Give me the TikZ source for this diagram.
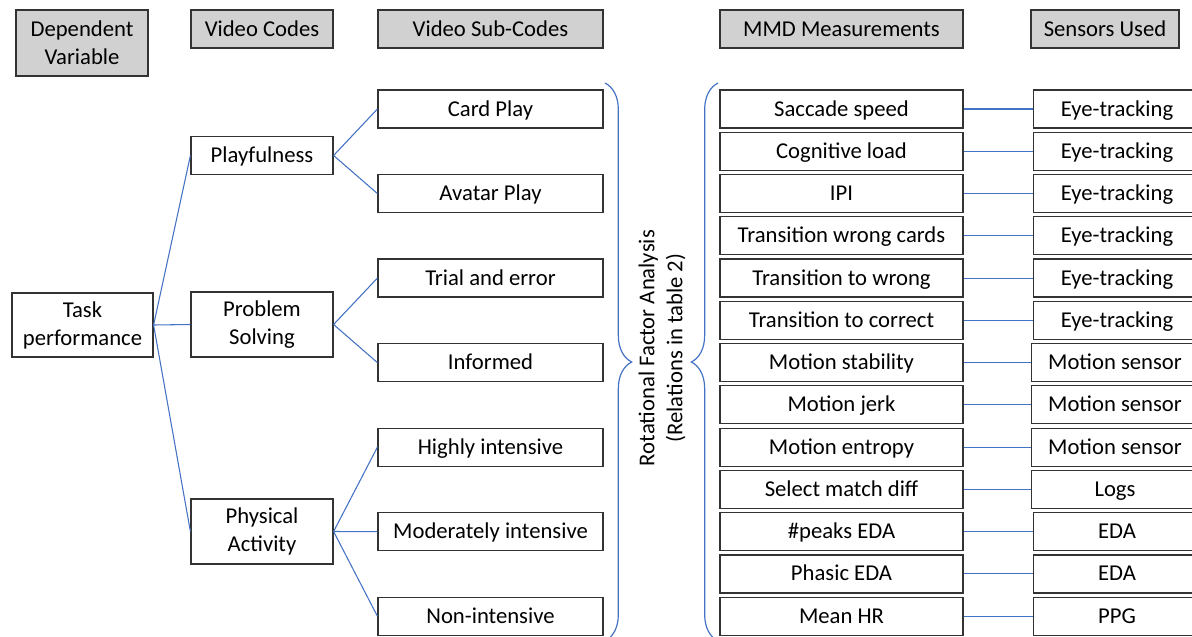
\documentclass[tikz,border=0pt]{standalone}
\usepackage{fontspec}
\setmainfont{Carlito}
\usetikzlibrary{decorations.pathreplacing}
\definecolor{linkblue}{RGB}{68,114,196}

\begin{document}
\begin{tikzpicture}[x=0.75pt, y=-0.75pt, font=\fontsize{17}{21}\selectfont,
block/.style={rectangle, draw=black!80, line width=0.9pt, minimum height=28.5pt, inner sep=2pt, align=center},
oneline/.style={block, text height=13.5pt, text depth=3pt},
head/.style={block, fill=black!18},
code/.style={block, minimum width=106.5pt, minimum height=28pt},
sub/.style={oneline, minimum width=168.75pt},
mmd/.style={oneline, minimum width=182.25pt},
sens/.style={oneline, minimum width=125pt},
link/.style={draw=linkblue, line width=0.8pt},
cbrace/.style={draw=linkblue, line width=0.9pt, decorate, decoration={brace, amplitude=20pt}}]
 \useasboundingbox (0,0) rectangle (1192,636);

 % column headers
 \node[head, minimum width=99pt, minimum height=49.5pt] (hdep) at (82,43) {Dependent\\Variable};
 \node[head, oneline, minimum width=106.5pt] (hcode) at (262,29) {Video Codes};
 \node[head, oneline, minimum width=168.75pt] (hsub) at (490.5,29) {Video Sub-Codes};
 \node[head, oneline, minimum width=182.25pt] (hmmd) at (841.5,29) {MMD Measurements};
 \node[head, oneline, minimum width=111pt] (hsens) at (1105,29) {Sensors Used};

 % dependent variable and video codes
 \node[block, minimum width=105.75pt, minimum height=48pt] (task) at (82.5,325) {Task\\performance};
 \node[code, oneline] (play) at (262,155.5) {Playfulness};
 \node[code, minimum height=48.75pt] (prob) at (262,324.5) {Problem\\Solving};
 \node[code, minimum height=48.75pt] (phys) at (262,531.5) {Physical\\Activity};

 % video sub-codes
 \node[sub] (card) at (490.5,109) {Card Play};
 \node[sub, below of=card, node distance=63.4pt] (avatar) {Avatar Play};
 \node[sub, below of=avatar, node distance=63.4pt] (trial) {Trial and error};
 \node[sub, below of=trial, node distance=63.4pt] (informed) {Informed};
 \node[sub, below of=informed, node distance=63.4pt] (highly) {Highly intensive};
 \node[sub, below of=highly, node distance=63.4pt] (moder) {Moderately intensive};
 \node[sub, below of=moder, node distance=63.4pt] (nonint) {Non-intensive};

 % MMD measurements
 \node[mmd] (saccade) at (841.5,109) {Saccade speed};
 \node[mmd, below of=saccade, node distance=31.7pt] (cogload) {Cognitive load};
 \node[mmd, below of=cogload, node distance=31.7pt] (ipi) {IPI};
 \node[mmd, below of=ipi, node distance=31.7pt] (trwcards) {Transition wrong cards};
 \node[mmd, below of=trwcards, node distance=31.7pt] (trwrong) {Transition to wrong};
 \node[mmd, below of=trwrong, node distance=31.7pt] (trcorrect) {Transition to correct};
 \node[mmd, below of=trcorrect, node distance=31.7pt] (mstab) {Motion stability};
 \node[mmd, below of=mstab, node distance=31.7pt] (mjerk) {Motion jerk};
 \node[mmd, below of=mjerk, node distance=31.7pt] (mentropy) {Motion entropy};
 \node[mmd, below of=mentropy, node distance=31.7pt] (selmatch) {Select match diff};
 \node[mmd, below of=selmatch, node distance=31.7pt] (peaks) {\#peaks EDA};
 \node[mmd, below of=peaks, node distance=31.7pt] (phasic) {Phasic EDA};
 \node[mmd, below of=phasic, node distance=31.7pt] (meanhr) {Mean HR};

 % sensors
 \node[sens] (s1) at (1117,109) {Eye-tracking};
 \node[sens, below of=s1, node distance=31.7pt] (s2) {Eye-tracking};
 \node[sens, below of=s2, node distance=31.7pt] (s3) {Eye-tracking};
 \node[sens, below of=s3, node distance=31.7pt] (s4) {Eye-tracking};
 \node[sens, below of=s4, node distance=31.7pt] (s5) {Eye-tracking};
 \node[sens, below of=s5, node distance=31.7pt] (s6) {Eye-tracking};
 \node[sens, below of=s6, node distance=31.7pt, xshift=-1.5pt] (s7) {Motion sensor};
 \node[sens, below of=s7, node distance=31.7pt] (s8) {Motion sensor};
 \node[sens, below of=s8, node distance=31.7pt] (s9) {Motion sensor};
 \node[sens, below of=s9, node distance=31.7pt] (s10) {Logs};
 \node[sens, below of=s10, node distance=31.7pt, xshift=1.5pt] (s11) {EDA};
 \node[sens, below of=s11, node distance=31.7pt] (s12) {EDA};
 \node[sens, below of=s12, node distance=31.7pt] (s13) {PPG};

 % rotated label between the braces
 \node[rotate=90, align=center] (rfa) at (662,348) {Rotational Factor Analysis\\(Relations in table 2)};
 \coordinate (ltop) at (605,83);
 \coordinate (lbot) at (605,641);
 \coordinate (rtop) at (718,83);
 \coordinate (rbot) at (718,641);
 \draw[cbrace] (ltop) -- (lbot);
 \draw[cbrace] (rbot) -- (rtop);

 % tree links
 \draw[link] (task.east) -- (play.west);
 \draw[link] (task.east) -- (prob.west);
 \draw[link] (task.east) -- (phys.west);
 \draw[link] (play.east) -- (card.west);
 \draw[link] (play.east) -- (avatar.west);
 \draw[link] (prob.east) -- (trial.west);
 \draw[link] (prob.east) -- (informed.west);
 \draw[link] (phys.east) -- (highly.west);
 \draw[link] (phys.east) -- (moder.west);
 \draw[link] (phys.east) -- (nonint.west);

 % measurement to sensor links
 \draw[link] (saccade) -- (s1);
 \draw[link] (cogload) -- (s2);
 \draw[link] (ipi) -- (s3);
 \draw[link] (trwcards) -- (s4);
 \draw[link] (trwrong) -- (s5);
 \draw[link] (trcorrect) -- (s6);
 \draw[link] (mstab) -- (s7);
 \draw[link] (mjerk) -- (s8);
 \draw[link] (mentropy) -- (s9);
 \draw[link] (selmatch) -- (s10);
 \draw[link] (peaks) -- (s11);
 \draw[link] (phasic) -- (s12);
 \draw[link] (meanhr) -- (s13);
\end{tikzpicture}
\end{document}
